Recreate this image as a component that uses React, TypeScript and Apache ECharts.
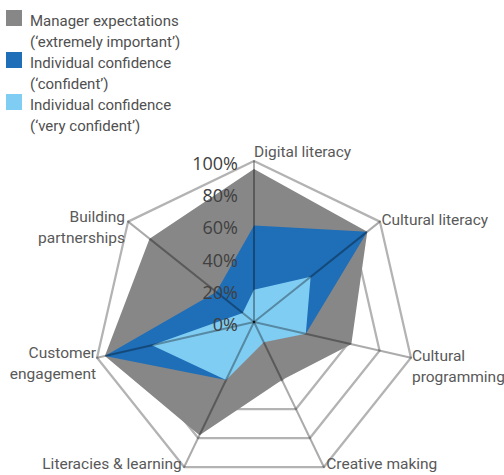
import React, { useEffect, useRef } from 'react';
import * as echarts from 'echarts';

// Axes, listed clockwise from the top
const categories = [
  'Digital literacy',
  'Cultural literacy',
  'Cultural\nprogramming',
  'Creative making',
  'Literacies & learning',
  'Customer\nengagement',
  'Building\npartnerships',
];

const seriesNames = [
  'Manager expectations\n(‘extremely important’)',
  'Individual confidence\n(‘confident’)',
  'Individual confidence\n(‘very confident’)',
];

// Percent values, same order as categories
const managerExpectations = [95, 90, 62, 40, 78, 95, 83];
const confident = [60, 90, 33, 10, 40, 95, 30];
const veryConfident = [20, 45, 33, 14, 40, 65, 9];

const axisMin = 0;
const axisMax = 100;
const axisSplits = 5;

const colors = ['#878787', '#1e6eb8', '#80cdf3'];

// label placement per axis (style only); spacer = extra space above multi-line names
const nameStyles = [
  { align: 'left', verticalAlign: 'bottom', gap: 1, spacer: 0 },
  { align: 'left', verticalAlign: 'middle', gap: 2, spacer: 0 },
  { align: 'left', verticalAlign: 'middle', gap: 1, spacer: 16 },
  { align: 'left', verticalAlign: 'bottom', gap: 5.5, spacer: 0 },
  { align: 'right', verticalAlign: 'bottom', gap: 5.5, spacer: 0 },
  { align: 'right', verticalAlign: 'middle', gap: 1, spacer: 11 },
  { align: 'right', verticalAlign: 'middle', gap: 4, spacer: 16 },
];

// ECharts lays radar indicators counter-clockwise; reorder to clockwise reading
const order = categories.map((_, i) => (i === 0 ? 0 : categories.length - i));

const FONT = 'Roboto, "Liberation Sans", sans-serif';

export default function App() {
  const ref = useRef<HTMLDivElement>(null);

  useEffect(() => {
    if (!ref.current) return;
    const chart = echarts.init(ref.current, undefined, { renderer: 'svg' });

    const baseIndicators = order.map((i) => ({
      name: categories[i],
      min: axisMin,
      max: axisMax,
      nameGap: nameStyles[i].gap,
      nameTextStyle: {
        align: nameStyles[i].align,
        verticalAlign: nameStyles[i].verticalAlign,
      },
    }));

    const overlayIndicators = order.map((i, k) => ({
      name: '',
      min: axisMin,
      max: axisMax,
      ...(k === 0
        ? {
            axisLabel: {
              show: true,
              formatter: '{value}%',
              fontFamily: '"Open Sans", Roboto, sans-serif',
              fontSize: 18,
              lineHeight: 4,
              verticalAlign: 'top',
              align: 'right',
              color: '#404040',
              margin: 16,
            },
          }
        : {}),
    }));

    const common = {
      center: [254, 322],
      radius: 161,
      startAngle: 90,
      splitNumber: axisSplits,
      shape: 'polygon',
    };

    const toRadar = (arr: number[]) => order.map((i) => arr[i]);
    const seriesData = [managerExpectations, confident, veryConfident];

    const nameRich: Record<string, any> = {
      t: { fontFamily: FONT, fontSize: 15.5, lineHeight: 21, color: '#595959' },
      u: { fontFamily: FONT, fontSize: 15.5, lineHeight: 16, color: '#595959' },
    };
    nameStyles.forEach((s) => {
      if (s.spacer) nameRich['sp' + s.spacer] = { fontSize: 1, lineHeight: s.spacer };
    });

    chart.setOption({
      animation: false,
      legend: {
        orient: 'vertical',
        left: 6,
        top: 10,
        padding: 0,
        itemGap: 0,
        itemWidth: 19,
        itemHeight: 42,
        icon: 'path://M0,0H16V16H0Z M19,41.99H19.01V42H19Z',
        selectedMode: false,
        data: seriesNames,
        textStyle: {
          fontFamily: FONT,
          fontSize: 15,
          lineHeight: 21,
          color: '#505050',
        },
      },
      radar: [
        {
          ...common,
          indicator: baseIndicators,
          axisName: {
            color: '#595959',
            fontFamily: FONT,
            fontSize: 15.5,
            lineHeight: 1,
            rich: nameRich,
            formatter: (name: string) => {
              const idx = categories.indexOf(name);
              const sp = idx >= 0 ? nameStyles[idx].spacer : 0;
              const lines = name.split('\n');
              const style = lines.length > 1 ? 't' : 'u';
              const body = lines.map((l) => `{${style}|${l}}`).join('\n');
              return sp ? `{sp${sp}| }\n${body}` : body;
            },
          },
          axisLine: { show: false },
          axisTick: { show: false },
          axisLabel: { show: false },
          splitArea: { show: false },
          splitLine: { lineStyle: { color: '#b3b3b3', width: 2.25 } },
        },
        {
          ...common,
          z: 3,
          indicator: overlayIndicators,
          axisName: { show: false },
          axisLine: { show: true, lineStyle: { color: 'rgba(0,0,0,0.33)', width: 2 } },
          axisTick: { show: false },
          axisLabel: { show: false },
          splitArea: { show: false },
          splitLine: { show: false },
        },
      ],
      series: seriesNames.map((name, s) => ({
        type: 'radar',
        name,
        radarIndex: 0,
        symbol: 'none',
        silent: true,
        z: 2 + s * 0.1,
        itemStyle: { color: colors[s] },
        lineStyle: { width: 0, color: colors[s] },
        areaStyle: { color: colors[s], opacity: 1 },
        data: [{ name, value: toRadar(seriesData[s]) }],
      })),
    });

    return () => chart.dispose();
  }, []);

  return (
    <div
      ref={ref}
      style={{ position: 'absolute', left: 0, top: 0, width: 504, height: 475, background: '#fff' }}
    />
  );
}
